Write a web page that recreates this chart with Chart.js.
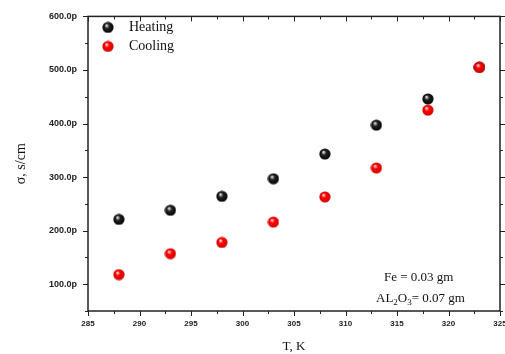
<!DOCTYPE html>
<html lang="en">
<head>
  <meta charset="UTF-8" />
  <title>Conductivity vs temperature</title>
  <script src="https://cdn.jsdelivr.net/npm/chart.js"></script>
  <style>
    html, body { margin: 0; padding: 0; background: #fff; }
    #wrap { width: 505px; height: 354px; position: relative; }
  </style>
</head>
<body>
  <div id="wrap"><canvas id="chart"></canvas></div>

  <script>
    // data (sigma in pS/cm)
    const temps = [288, 293, 298, 303, 308, 313, 318, 323];
    const heating = [221, 238, 264, 297, 343, 397, 446, 505];
    const cooling = [118, 157, 178, 216, 263, 317, 425, 505];
    const xTicks = [285, 290, 295, 300, 305, 310, 315, 320, 325];
    const yTicks = [100, 200, 300, 400, 500, 600];

    // little shaded balls like the original markers
    function makeBall(light, mid, dark) {
      const c = document.createElement('canvas');
      c.width = 12; c.height = 12;
      const g = c.getContext('2d');
      const grad = g.createRadialGradient(4.5, 4, 0.5, 6, 6, 6);
      grad.addColorStop(0, light);
      grad.addColorStop(0.35, mid);
      grad.addColorStop(1, dark);
      g.fillStyle = grad;
      g.beginPath();
      g.arc(6, 6, 5.6, 0, Math.PI * 2);
      g.fill();
      return c;
    }
    const blackBall = makeBall('#d8d8d8', '#222', '#000');
    const redBall = makeBall('#ffd0d0', '#ff0000', '#d00000');

    const frame = {
      id: 'frame',
      afterDraw(chart) {
        const { ctx, chartArea: a, scales } = chart;
        const sx = scales.x, sy = scales.y;
        ctx.save();
        ctx.strokeStyle = '#222';
        ctx.lineWidth = 1.5;
        ctx.strokeRect(a.left, a.top, a.right - a.left, a.bottom - a.top);

        ctx.lineWidth = 1;
        ctx.beginPath();
        for (let v = 285; v <= 325; v += 2.5) {
          const x = Math.round(sx.getPixelForValue(v)) + 0.5;
          const len = v % 5 === 0 ? 5 : 3;
          ctx.moveTo(x, a.bottom); ctx.lineTo(x, a.bottom + len);
          ctx.moveTo(x, a.top); ctx.lineTo(x, a.top + len);
        }
        for (let v = 50; v <= 600; v += 50) {
          const y = Math.round(sy.getPixelForValue(v)) + 0.5;
          const len = v % 100 === 0 ? 5 : 3;
          ctx.moveTo(a.left, y); ctx.lineTo(a.left - len, y);
          ctx.moveTo(a.right, y); ctx.lineTo(a.right + len, y);
        }
        ctx.stroke();

        // legend
        const items = [[blackBall, 'Heating'], [redBall, 'Cooling']];
        ctx.font = '14px "Liberation Serif", "Times New Roman", serif';
        ctx.fillStyle = '#111';
        ctx.textBaseline = 'middle';
        items.forEach(([img, label], i) => {
          const y = a.top + 11 + i * 19;
          ctx.drawImage(img, a.left + 14, y - 6);
          ctx.fillText(label, a.left + 41, y);
        });

        // composition note
        ctx.font = '13px "Liberation Serif", "Times New Roman", serif';
        ctx.textBaseline = 'alphabetic';
        ctx.fillText('Fe = 0.03 gm', 384, 281);
        let x = 376;
        const base = 302;
        const parts = [['AL', 0], ['2', 1], ['O', 0], ['3', 1], ['= 0.07 gm', 0]];
        parts.forEach(([t, sub]) => {
          ctx.font = sub ? '9px "Liberation Serif", serif' : '13px "Liberation Serif", serif';
          ctx.fillText(t, x, sub ? base + 3 : base);
          x += ctx.measureText(t).width;
        });
        ctx.restore();
      }
    };

    new Chart(document.getElementById('chart'), {
      type: 'scatter',
      data: {
        datasets: [
          {
            label: 'Heating',
            data: temps.map((t, i) => ({ x: t, y: heating[i] })),
            pointStyle: blackBall,
            order: 1
          },
          {
            label: 'Cooling',
            data: temps.map((t, i) => ({ x: t, y: cooling[i] })),
            pointStyle: redBall,
            order: 0
          }
        ]
      },
      options: {
        responsive: true,
        maintainAspectRatio: false,
        animation: false,
        layout: { padding: { top: 15, right: 5, left: 0, bottom: 0 } },
        plugins: { legend: { display: false }, tooltip: { enabled: false } },
        scales: {
          x: {
            type: 'linear',
            min: 285, max: 325,
            afterBuildTicks: s => { s.ticks = xTicks.map(v => ({ value: v })); },
            afterFit: s => { s.height = 43; s.paddingRight = 0; s.paddingLeft = 0; },
            grid: { display: false, drawTicks: false },
            border: { display: false },
            ticks: {
              padding: 8,
              maxRotation: 0,
              color: '#222',
              font: { family: 'Arial, "Liberation Sans", sans-serif', size: 8, weight: 'bold' }
            },
            title: {
              display: true,
              text: 'T, K',
              color: '#111',
              padding: { top: 6, bottom: 0 },
              font: { family: '"Liberation Serif", "Times New Roman", serif', size: 13 }
            }
          },
          y: {
            min: 50, max: 600,
            afterBuildTicks: s => { s.ticks = yTicks.map(v => ({ value: v })); },
            afterFit: s => { s.width = 88; },
            grid: { display: false, drawTicks: false },
            border: { display: false },
            ticks: {
              padding: 11,
              color: '#222',
              callback: v => v.toFixed(1) + 'p',
              font: { family: 'Arial, "Liberation Sans", sans-serif', size: 9, weight: 'bold' }
            },
            title: {
              display: true,
              text: 'σ, s/cm',
              color: '#111',
              padding: { top: 13, bottom: 0 },
              font: { family: '"Liberation Serif", "Times New Roman", serif', size: 14 }
            }
          }
        }
      },
      plugins: [frame]
    });
  </script>
</body>
</html>
